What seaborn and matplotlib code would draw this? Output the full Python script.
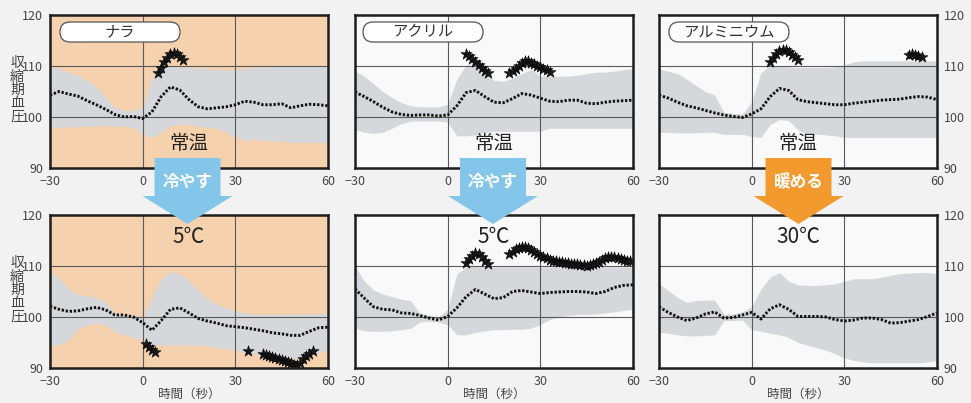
import matplotlib
matplotlib.use("Agg")
import matplotlib.pyplot as plt
import seaborn as sns
from matplotlib.patches import FancyBboxPatch, Polygon

sns.set_theme(style="white")
plt.rcParams['font.family'] = ['Noto Sans CJK JP', 'DejaVu Sans']

# ---------------- data ----------------
TIME = list(range(-30, 61, 3))
X_TICKS = [-30, 0, 30, 60]
Y_TICKS = [90, 100, 110, 120]
MATERIALS = ["ナラ", "アクリル", "アルミニウム"]
ACTIONS = ["冷やす", "冷やす", "暖める"]
TEMPS = ["5℃", "5℃", "30℃"]
TOP_TEXT = "常温"

# top row (常温)
nara_top_mean = [104.3, 105.0, 104.5, 104.1, 103.2, 102.4, 101.5, 100.5, 100.0, 100.1, 99.7, 101.0, 104.0, 105.9, 105.3, 103.4,
                 102.0, 101.6, 101.8, 102.0, 102.4, 103.1, 102.9, 102.4, 102.4, 102.6, 101.8, 102.2, 102.5, 102.4, 102.2]
nara_top_upper = [109.8, 109.5, 108.8, 108.2, 107.2, 106.0, 103.8, 101.8, 101.3, 101.3, 102.0, 107.5, 110.0, 110.0, 109.8, 109.7,
                  109.6, 109.5, 109.3, 109.2, 109.3, 109.5, 109.7, 109.8, 109.9, 109.9, 109.9, 109.9, 109.9, 109.9, 109.9]
nara_top_lower = [98.0, 98.0, 98.0, 98.1, 98.2, 98.3, 98.3, 98.2, 98.2, 98.0, 96.5, 96.0, 97.0, 98.3, 98.6, 98.5,
                  98.2, 98.0, 97.8, 97.0, 96.0, 95.5, 95.5, 95.5, 95.3, 95.2, 95.1, 95.0, 95.0, 95.0, 95.0]
nara_top_star_t = [5, 6, 7, 8, 9, 10, 11, 12, 13]
nara_top_star_v = [108.6, 109.6, 110.8, 111.5, 112.3, 112.6, 112.3, 111.8, 111.2]

acryl_top_mean = [104.9, 104.0, 103.0, 101.9, 101.0, 100.5, 100.3, 100.4, 100.4, 100.2, 100.4, 102.2, 104.8, 105.2, 104.0, 102.9,
                  102.8, 103.6, 104.6, 104.3, 103.7, 103.1, 103.0, 103.3, 103.3, 102.7, 102.6, 102.9, 103.1, 103.2, 103.3]
acryl_top_upper = [109.0, 108.0, 106.5, 105.0, 103.8, 102.8, 102.2, 102.0, 102.0, 102.0, 102.5, 107.5, 110.2, 110.2, 108.7, 107.2,
                   107.0, 107.6, 108.5, 109.3, 108.0, 108.0, 108.0, 108.0, 108.2, 108.5, 108.8, 108.8, 109.0, 109.3, 109.5]
acryl_top_lower = [97.5, 97.0, 96.8, 97.0, 97.8, 98.7, 99.2, 99.2, 99.2, 99.2, 99.0, 96.3, 96.3, 96.5, 97.0, 97.2,
                   97.2, 97.2, 97.2, 97.2, 97.2, 97.8, 97.8, 97.8, 97.8, 97.8, 97.8, 97.8, 97.8, 97.8, 97.8]
acryl_top_star_t = [6, 7, 8, 9, 10, 11, 12, 13,
                    20, 21, 22, 23, 24, 25, 26, 27, 28, 29, 30, 31, 32, 33]
acryl_top_star_v = [112.3, 112.0, 111.4, 110.8, 110.2, 109.6, 109.1, 108.7,
                    108.7, 109.0, 109.4, 110.0, 110.6, 111.0, 110.9, 110.6, 110.3, 110.0, 109.8, 109.5, 109.2, 108.8]

alu_top_mean = [104.3, 103.7, 102.9, 102.2, 101.8, 101.3, 100.8, 100.4, 100.1, 99.9, 100.6, 101.6, 104.0, 105.6, 105.2, 103.4,
                103.0, 102.8, 102.6, 102.4, 102.4, 102.7, 102.9, 103.1, 103.3, 103.4, 103.5, 103.8, 104.0, 103.9, 103.4]
alu_top_upper = [109.4, 109.0, 108.5, 107.4, 106.2, 105.0, 104.3, 100.9, 100.7, 100.6, 103.0, 108.7, 110.0, 110.0, 109.8, 109.7,
                 109.7, 109.7, 109.7, 109.8, 110.2, 110.8, 111.0, 111.0, 111.0, 111.0, 111.0, 111.0, 111.0, 111.0, 111.0]
alu_top_lower = [97.0, 97.0, 96.9, 96.9, 96.9, 97.0, 97.0, 96.6, 96.6, 96.6, 96.2, 96.0, 98.5, 99.5, 99.3, 97.5,
                 96.6, 96.6, 96.5, 96.3, 96.0, 96.0, 96.0, 96.0, 96.0, 96.0, 96.0, 96.0, 96.0, 96.0, 96.0]
alu_top_star_t = [6, 7, 8, 9, 10, 11, 12, 13, 14, 15, 51, 52, 53, 54, 55]
alu_top_star_v = [110.8, 111.6, 112.4, 113.0, 113.2, 113.1, 112.7, 112.2, 111.7, 111.1,
                  112.2, 112.3, 112.1, 112.0, 111.8]

# bottom row (after temperature change)
nara_bot_mean = [102.1, 101.5, 101.1, 101.2, 101.6, 101.9, 101.4, 100.4, 100.4, 100.0, 98.9, 97.4, 99.3, 101.5, 101.8, 100.8,
                 99.7, 99.2, 98.8, 98.3, 98.1, 97.9, 97.6, 97.3, 96.9, 96.7, 96.4, 96.4, 97.2, 97.9, 98.0]
nara_bot_upper = [109.0, 107.5, 105.5, 104.5, 104.2, 103.8, 103.0, 100.8, 100.5, 100.3, 100.0, 104.0, 107.5, 108.8, 108.5, 107.0,
                  105.2, 103.5, 102.5, 101.8, 101.2, 100.8, 100.6, 100.5, 100.5, 100.5, 100.6, 100.6, 100.6, 100.7, 100.7]
nara_bot_lower = [94.5, 94.5, 95.5, 97.5, 98.5, 98.8, 98.5, 97.0, 96.5, 96.0, 95.5, 94.5, 94.5, 94.5, 94.5, 94.5,
                  94.5, 94.3, 94.0, 93.8, 93.5, 93.0, 92.8, 92.5, 92.3, 92.0, 91.8, 92.0, 92.5, 93.0, 93.5]
nara_bot_star_t = [1, 2, 3, 4, 34,
                   39, 40, 41, 42, 43, 44, 45, 46, 47, 48, 49, 50, 51, 52, 53, 54, 55]
nara_bot_star_v = [94.8, 94.2, 93.6, 93.2, 93.3,
                   92.8, 92.6, 92.4, 92.2, 92.0, 91.8, 91.6, 91.4, 91.2, 90.9, 90.6, 90.5, 91.0, 91.7, 92.3, 92.8, 93.3]

acryl_bot_mean = [105.5, 103.7, 102.0, 101.5, 101.4, 100.8, 100.7, 100.3, 99.8, 99.4, 100.1, 101.8, 104.0, 105.4, 104.5, 103.6,
                  103.8, 105.0, 105.2, 104.9, 104.6, 104.8, 104.9, 105.0, 105.0, 104.9, 104.6, 105.0, 105.8, 106.2, 106.3]
acryl_bot_upper = [110.0, 107.0, 105.3, 104.5, 104.0, 103.5, 103.2, 100.8, 100.3, 100.0, 101.5, 108.5, 109.8, 110.0, 109.8, 109.8,
                   109.8, 109.8, 109.8, 109.8, 109.8, 109.8, 109.8, 109.8, 109.8, 109.8, 109.8, 109.8, 109.8, 109.8, 109.8]
acryl_bot_lower = [97.8, 97.3, 97.2, 97.2, 97.3, 97.5, 97.8, 99.0, 99.2, 99.0, 98.5, 96.5, 96.5, 97.0, 97.3, 97.5,
                   97.5, 97.6, 97.6, 97.8, 98.5, 99.5, 100.0, 100.3, 100.5, 100.5, 100.6, 100.8, 101.0, 101.3, 101.5]
acryl_bot_star_t = [6, 7, 8, 9, 10, 11, 12, 13,
                    20, 21, 22, 23, 24, 25, 26, 27, 28, 29,
                    30, 31, 32, 33, 34, 35, 36, 37, 38, 39, 40, 41, 42, 43, 44,
                    45, 46, 47, 48, 49, 50, 51, 52, 53, 54, 55, 56, 57, 58, 59]
acryl_bot_star_v = [110.6, 111.3, 112.0, 112.5, 112.4, 111.8, 111.0, 110.4,
                    112.3, 112.8, 113.3, 113.6, 113.8, 113.8, 113.6, 113.2, 112.8, 112.4,
                    112.0, 111.8, 111.5, 111.2, 111.0, 110.9, 110.8, 110.7, 110.6, 110.5, 110.4, 110.4, 110.3, 110.2, 110.1,
                    110.0, 110.1, 110.3, 110.5, 110.8, 111.2, 111.5, 111.7, 111.8, 111.8, 111.6, 111.3, 111.1, 111.0, 110.9]

alu_bot_mean = [102.0, 100.9, 100.0, 99.3, 99.8, 100.6, 101.0, 99.8, 99.9, 100.4, 100.9, 99.6, 101.6, 102.4, 101.5, 100.1,
                100.1, 100.1, 100.0, 99.5, 99.2, 99.4, 99.8, 99.8, 99.5, 98.8, 98.9, 99.2, 99.5, 100.1, 100.8]
alu_bot_upper = [106.5, 105.2, 103.8, 102.9, 103.2, 103.3, 103.3, 100.6, 100.6, 101.0, 102.0, 105.5, 107.8, 108.7, 107.0, 106.3,
                 106.2, 106.2, 106.3, 106.5, 107.0, 107.5, 107.5, 107.5, 107.8, 108.2, 108.5, 108.6, 108.7, 108.7, 108.5]
alu_bot_lower = [97.0, 96.8, 96.5, 96.3, 96.3, 96.4, 96.5, 99.3, 99.3, 99.4, 97.5, 97.2, 96.8, 96.5, 96.0, 95.0,
                 94.5, 94.0, 93.5, 92.8, 92.0, 91.5, 91.2, 91.0, 91.0, 91.0, 91.0, 91.0, 91.0, 91.2, 91.5]
alu_bot_star_t = []
alu_bot_star_v = []

# ---------------- styling ----------------
FIG_BG = '#f2f2f2'
WHITE_BG = '#f9f9f9'
TAN_BG = '#f5d1ae'
BAND = '#d6d7da'
BLUE = '#84c6ea'
ORANGE = '#f29a2e'

W, H = 971, 403
fig = plt.figure(figsize=(W / 100, H / 100), dpi=100)
fig.patch.set_facecolor(FIG_BG)


def px_rect(x0, y0, x1, y1):
    return [x0 / W, 1 - y1 / H, (x1 - x0) / W, (y1 - y0) / H]


cols_x = [(50, 328), (355, 633), (659, 937)]
rows_y = [(15, 168), (215, 368)]

panels = [
    (0, 0, nara_top_mean, nara_top_upper, nara_top_lower, nara_top_star_t, nara_top_star_v),
    (0, 1, acryl_top_mean, acryl_top_upper, acryl_top_lower, acryl_top_star_t, acryl_top_star_v),
    (0, 2, alu_top_mean, alu_top_upper, alu_top_lower, alu_top_star_t, alu_top_star_v),
    (1, 0, nara_bot_mean, nara_bot_upper, nara_bot_lower, nara_bot_star_t, nara_bot_star_v),
    (1, 1, acryl_bot_mean, acryl_bot_upper, acryl_bot_lower, acryl_bot_star_t, acryl_bot_star_v),
    (1, 2, alu_bot_mean, alu_bot_upper, alu_bot_lower, alu_bot_star_t, alu_bot_star_v),
]

for row, col, mean, upper, lower, st, sv in panels:
    x0, x1 = cols_x[col]
    y0, y1 = rows_y[row]
    ax = fig.add_axes(px_rect(x0, y0, x1, y1))
    ax.set_facecolor(TAN_BG if col == 0 else WHITE_BG)
    ax.fill_between(TIME, lower, upper, color=BAND, lw=0, zorder=1)
    sns.lineplot(x=TIME, y=mean, ax=ax, color='#111111', lw=2.1,
                 linestyle=(0, (0.8, 0.6)), zorder=3)
    if st:
        sns.scatterplot(x=st, y=sv, ax=ax, marker='*', s=70, color='#1a1a1a',
                        edgecolor='#000000', linewidth=0.4, zorder=4)
    ax.set_xlim(-30, 60)
    ax.set_ylim(90, 120)
    ax.set_xticks(X_TICKS)
    ax.set_yticks(Y_TICKS)
    ax.set_axisbelow(False)
    ax.grid(True, color='#5a5a5a', lw=0.8, zorder=2)
    for sp in ax.spines.values():
        sp.set_visible(True)
        sp.set_color('#1e1e1e')
        sp.set_linewidth(1.8)
        sp.set_zorder(5)
    ax.tick_params(length=0, labelsize=9, labelcolor='#444444', pad=5)
    if col == 0:
        ax.tick_params(labelleft=True, labelright=False)
    elif col == 1:
        ax.tick_params(labelleft=False, labelright=False)
    else:
        ax.tick_params(labelleft=False, labelright=True)
    ax.set_ylabel('')
    if row == 1:
        ax.set_xlabel('時間（秒）', fontsize=9, color='#444444', labelpad=0)
        ax.text(15, 115.6, TEMPS[col], ha='center', va='center', fontsize=15,
                color='#222222', zorder=6)
    else:
        ax.set_xlabel('')
        ax.text(15, 94.9, TOP_TEXT, ha='center', va='center', fontsize=14,
                color='#222222', zorder=6)

# vertical y-axis labels
for yc in (90, 290):
    fig.text(17 / W, 1 - yc / H, "\n".join("収縮期血圧"), ha='center', va='center',
             fontsize=10, color='#444444', linespacing=0.95)

# rounded material labels
box_x = [60, 363, 669]
for bx, name in zip(box_x, MATERIALS):
    patch = FancyBboxPatch((bx / 100, (H - 42) / 100), 1.2, 0.2,
                           boxstyle='round,pad=0,rounding_size=0.1',
                           transform=fig.dpi_scale_trans, fc='white',
                           ec='#555555', lw=0.9, zorder=10)
    fig.patches.append(patch)
    fig.text((bx + 60) / W, 1 - 32 / H, name, ha='center', va='center',
             fontsize=11, color='#333333', zorder=11)

# arrows between rows
arrow_cx = [187.5, 493, 798.5]
for cx, label in zip(arrow_cx, ACTIONS):
    color = ORANGE if label == "暖める" else BLUE
    bw, hw = 33, 45
    ytop, yhead, ytip = 158, 196, 224
    pts = [(cx - bw, ytop), (cx + bw, ytop), (cx + bw, yhead), (cx + hw, yhead),
           (cx, ytip), (cx - hw, yhead), (cx - bw, yhead)]
    poly = Polygon([(x / 100, (H - y) / 100) for x, y in pts], closed=True,
                   transform=fig.dpi_scale_trans, fc=color, ec='none', zorder=10)
    fig.patches.append(poly)
    fig.text(cx / W, 1 - 182 / H, label, ha='center', va='center', fontsize=12,
             fontweight='bold', color='white', zorder=11)

fig.savefig('out.png', dpi=100, facecolor=FIG_BG)
